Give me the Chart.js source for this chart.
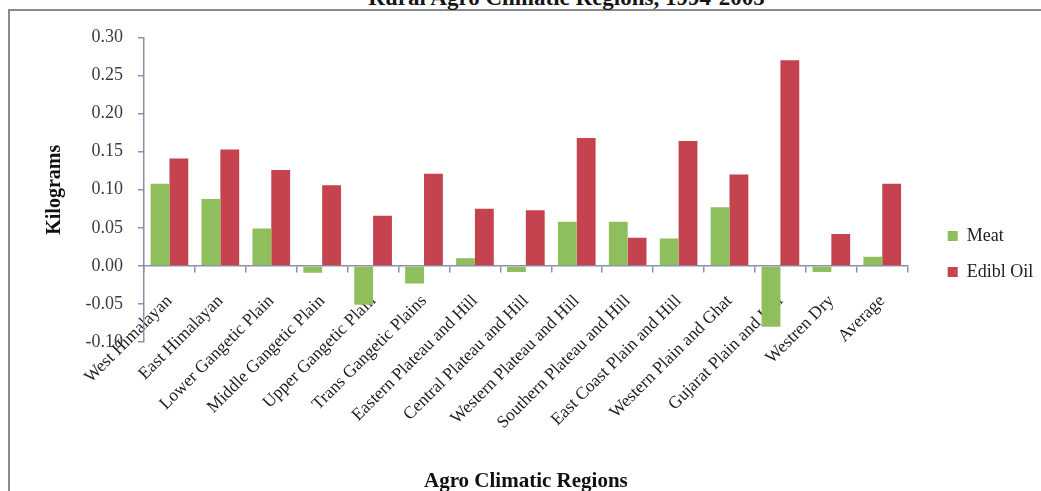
<!DOCTYPE html>
<html>
<head>
<meta charset="utf-8">
<title>Rural Agro Climatic Regions, 1994-2005</title>
<script src="https://cdn.jsdelivr.net/npm/chart.js@4/dist/chart.umd.min.js"></script>
<style>
  html, body { margin: 0; padding: 0; background: #fff; overflow: hidden; }
  #page { position: relative; width: 1041px; height: 491px; overflow: hidden; }
  #frame {
    position: absolute; left: 8px; top: 9px; width: 1100px; height: 600px;
    border-left: 2px solid #858a97; border-top: 2px solid #858a97;
  }
  #title {
    position: absolute; left: 0; top: -15px; width: 1133px; text-align: center;
    font: bold 23px/25px "Liberation Serif", "Times New Roman", serif;
    color: #151515; white-space: nowrap;
  }
  canvas { position: absolute; left: 0; top: 0; }
</style>
</head>
<body>
<div id="page">
  <div id="frame"></div>
  <div id="title">Rural Agro Climatic Regions, 1994-2005</div>
  <canvas id="chart" width="1041" height="491"></canvas>
</div>
<script>
// Change in per-capita consumption (kg) by agro-climatic region
const regions = [
  'West Himalayan', 'East Himalayan', 'Lower Gangetic Plain', 'Middle Gangetic Plain',
  'Upper Gangetic Plain', 'Trans Gangetic Plains', 'Eastern Plateau and Hill',
  'Central Plateau and Hill', 'Western Plateau and Hill', 'Southern Plateau and Hill',
  'East Coast Plain and Hill', 'Western Plain and Ghat', 'Gujarat Plain and Hill',
  'Westren Dry', 'Average'
];
const meat = [0.108, 0.088, 0.049, -0.009, -0.051, -0.023, 0.010, -0.008, 0.058, 0.058, 0.036, 0.077, -0.080, -0.008, 0.012];
const edibleOil = [0.141, 0.153, 0.126, 0.106, 0.066, 0.121, 0.075, 0.073, 0.168, 0.037, 0.164, 0.120, 0.270, 0.042, 0.108];
const seriesNames = ['Meat', 'Edibl Oil'];

const yMin = -0.10;
const yMax = 0.30;
const yStep = 0.05;

const axisColor = '#8a91ad';
const serif = '"Liberation Serif", "Times New Roman", serif';

new Chart(document.getElementById('chart'), {
  type: 'bar',
  data: {
    labels: regions,
    datasets: [
      { label: seriesNames[0], data: meat, backgroundColor: '#8fbf5c' },
      { label: seriesNames[1], data: edibleOil, backgroundColor: '#c4434f' }
    ]
  },
  options: {
    responsive: false,
    animation: false,
    devicePixelRatio: 1,
    datasets: { bar: { categoryPercentage: 0.74, barPercentage: 1.0 } },
    layout: { padding: { top: 37.5, bottom: 149, left: 0, right: 0 } },
    scales: {
      x: {
        // category axis runs along the zero line
        position: { y: 0 },
        grid: { drawOnChartArea: false, tickLength: 6, color: axisColor, lineWidth: 1.5, offset: true },
        border: { color: axisColor, width: 1.5 },
        ticks: {
          autoSkip: false, minRotation: 45, maxRotation: 45, padding: 19,
          color: '#1e1e1e', font: { family: serif, size: 17.5 }
        },
        title: {
          display: true, text: 'Agro Climatic Regions', color: '#111',
          font: { family: serif, size: 21, weight: 'bold' }, padding: 0
        },
        afterFit(scale) { scale.height = 228; }
      },
      y: {
        min: yMin,
        max: yMax,
        ticks: {
          stepSize: yStep, padding: 15, color: '#3c3c3c',
          font: { family: serif, size: 18 },
          callback: v => (Math.abs(v) < 1e-9 ? 0 : v).toFixed(2)
        },
        grid: { drawOnChartArea: false, tickLength: 6, color: axisColor, lineWidth: 1.5 },
        border: { color: axisColor, width: 1.5 },
        title: {
          display: true, text: 'Kilograms', color: '#111',
          font: { family: serif, size: 20, weight: 'bold' }, padding: { top: 42.5, bottom: 0 }
        },
        afterFit(scale) { scale.width = 144; }
      },
      // empty axis that keeps a gap between the plot and the legend
      gap: {
        type: 'linear', axis: 'y', position: 'right', display: true,
        grid: { display: false }, border: { display: false }, ticks: { display: false },
        afterFit(scale) { scale.width = 22; }
      }
    },
    plugins: {
      legend: {
        position: 'right',
        maxWidth: 111.3,
        labels: {
          boxWidth: 10, boxHeight: 10, padding: 18, color: '#222',
          font: { family: serif, size: 18 }
        },
        // blank title used as a spacer to lower the legend entries
        title: { display: true, text: '', padding: { top: 128.5, bottom: 0 }, font: { size: 1, lineHeight: 0 } }
      },
      tooltip: { enabled: false }
    }
  }
});
</script>
</body>
</html>
